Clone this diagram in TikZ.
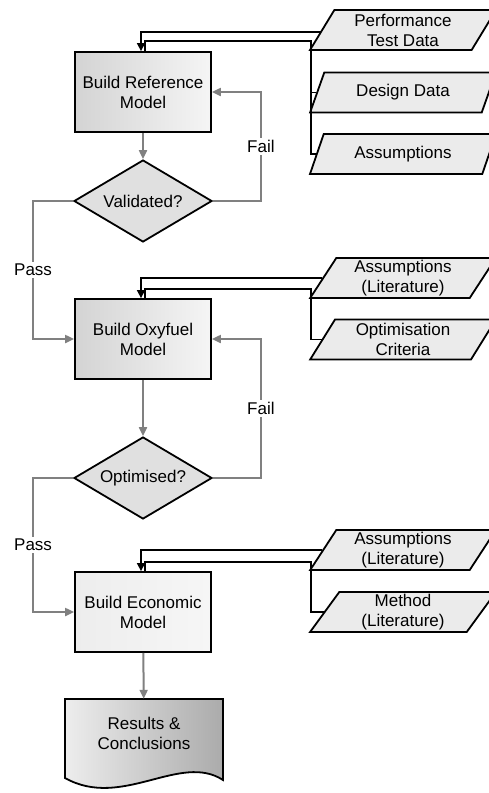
\documentclass[tikz,border=0pt]{standalone}
\usepackage{fontspec}
\setmainfont{Liberation Sans}
\usetikzlibrary{shapes.geometric,arrows.meta}

\tikzset{
  process/.style={draw, line width=1.8pt, minimum width=136pt, minimum height=80pt,
    align=center, left color=gray!34, right color=gray!8},
  decision/.style={diamond, draw, line width=1.8pt, minimum width=138pt,
    minimum height=82pt, aspect=1.68, inner sep=0pt, fill=gray!24},
  datain/.style={trapezium, trapezium left angle=62, trapezium right angle=118,
    trapezium stretches=true, draw, line width=1.8pt, minimum width=186pt,
    minimum height=40pt, inner sep=0pt, align=center, fill=gray!16},
  flow/.style={draw=gray, line width=2pt, -{Triangle[length=9pt,width=8pt]}},
  feed/.style={draw=black, line width=1.6pt},
  lbl/.style={fill=white, inner sep=2pt}
}

\begin{document}
\begin{tikzpicture}[x=1pt, y=-1pt, font=\fontsize{17}{20}\selectfont]
  \useasboundingbox (0,0) rectangle (489,793);
  \clip (0,0) rectangle (489,793);
  \fill[white] (0,0) rectangle (489,793);

  % main column
  \node[process] (ref) at (143,92) {Build Reference\\Model};
  \node[decision] (val) at (143,201) {Validated?};
  \node[process] (oxy) at (143,339) {Build Oxyfuel\\Model};
  \node[decision] (opt) at (143,478) {Optimised?};
  \node[process, left color=gray!14, right color=gray!7] (eco) at (143,612) {Build Economic\\Model};
  \node[align=center, minimum width=158pt, minimum height=68pt, inner sep=0pt] (res) at (144,733) {};
  \draw[line width=1.8pt, left color=gray!14, right color=gray!66]
    (65,699) -- (223,699) -- (223,780) .. controls (180,752) and (122,810) .. (65,778) -- cycle;
  \node[align=center] at (res) {Results \&\\Conclusions};

  % inputs
  \node[datain] (perf) at (403,30) {Performance\\Test Data};
  \node[datain] (design) at (403,92.5) {Design Data};
  \node[datain] (assum) at (403,154) {Assumptions};
  \node[datain] (lit1) at (403,278) {Assumptions\\(Literature)};
  \node[datain] (crit) at (403,339.5) {Optimisation\\Criteria};
  \node[datain] (lit2) at (403,550) {Assumptions\\(Literature)};
  \node[datain] (meth) at (403,612) {Method\\(Literature)};

  \coordinate (bus1) at (311,41);
  \coordinate (bus2) at (311,289);
  \coordinate (bus3) at (311,562);

  % flow
  \draw[flow] (ref) -- (val);
  \draw[flow] (val.east) -| node[pos=0.75, lbl] {Fail} ([xshift=49pt]ref.east) -- (ref.east);
  \draw[flow] (val.west) -| node[pos=0.75, lbl] {Pass} ([xshift=-41pt]oxy.west) -- (oxy.west);
  \draw[flow] (oxy) -- (opt);
  \draw[flow] (opt.east) -| node[pos=0.75, lbl] {Fail} ([xshift=49pt]oxy.east) -- (oxy.east);
  \draw[flow] (opt.west) -| node[pos=0.75, lbl] {Pass} ([xshift=-41pt]eco.west) -- (eco.west);
  \draw[flow] (eco) -- (res);

  % data feeds
  \draw[feed, -{Triangle[length=8pt,width=8pt]}] ([yshift=-2pt]perf.west) -| ([xshift=-2pt]ref.north);
  \draw[feed] (assum.west) -| (bus1) -| ([xshift=2pt]ref.north);
  \draw[feed] (design.west) -- (design.west -| bus1);

  \draw[feed, -{Triangle[length=8pt,width=8pt]}] (lit1.west) -| ([xshift=-2pt]oxy.north);
  \draw[feed] (crit.west) -| (bus2) -| ([xshift=2pt]oxy.north);

  \draw[feed, -{Triangle[length=8pt,width=8pt]}] (lit2.west) -| ([xshift=-2pt]eco.north);
  \draw[feed] (meth.west) -| (bus3) -| ([xshift=2pt]eco.north);
\end{tikzpicture}
\end{document}
